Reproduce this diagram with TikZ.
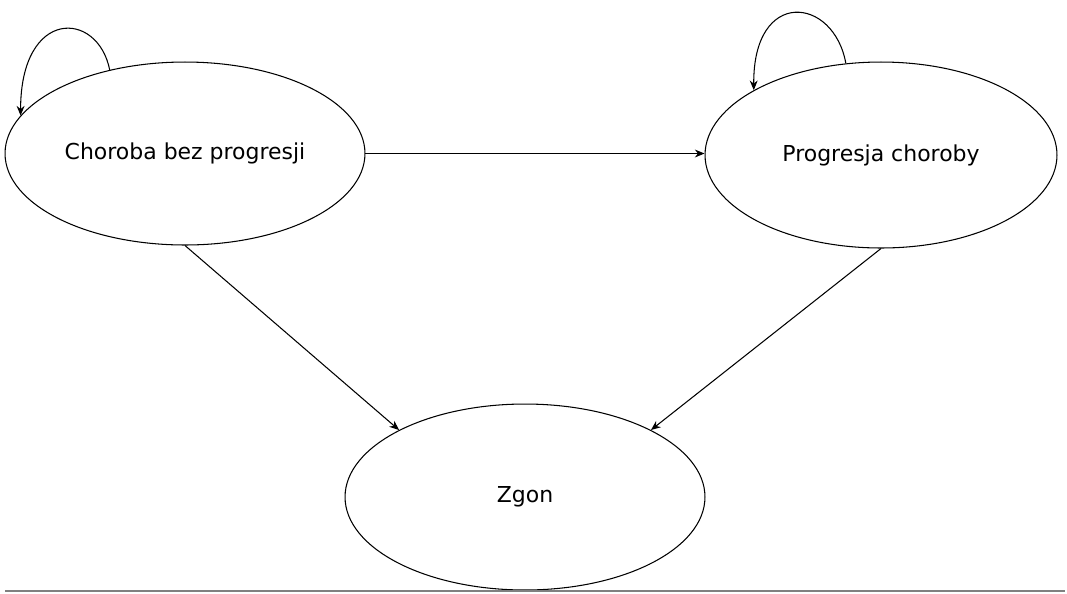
\documentclass[tikz,border=0pt]{standalone}
\usepackage{fontspec}
\setmainfont{DejaVu Sans}
\usetikzlibrary{shapes.geometric,arrows.meta}

\tikzstyle{state}=[draw, ellipse, line width=0.6pt, inner sep=0pt, font=\fontsize{12.5}{15}\selectfont]
\tikzstyle{trans}=[line width=0.6pt, -{Stealth[length=5.5pt,width=4.5pt]}]

\begin{document}
\begin{tikzpicture}[x=0.02cm,y=-0.02cm]

\useasboundingbox (0,0) rectangle (1067,593);

\node[state, minimum width=7.2cm, minimum height=3.66cm] (bez) at (185,153.5) {Choroba bez progresji};
\node[state, minimum width=7.04cm, minimum height=3.72cm] (prog) at (881,155) {Progresja choroby};
\node[state, minimum width=7.2cm, minimum height=3.72cm] (zgon) at (525,497) {Zgon};

\draw[trans] (bez.east) -- (bez.east -| prog.west);
\draw[trans] (bez.south) -- (zgon.152);
\draw[trans] (prog.south) -- (zgon.28);

\draw[trans] (bez.132) .. controls +(-12,-60) and +(0,-108) .. (bez.167);
\draw[trans] (prog.111) .. controls +(-12,-67) and +(-1,-103) .. (prog.153);

\coordinate (a) at (5,591);
\coordinate (b) at (1065,591);
\draw[line width=1pt, gray] (a) -- (b);

\end{tikzpicture}
\end{document}
